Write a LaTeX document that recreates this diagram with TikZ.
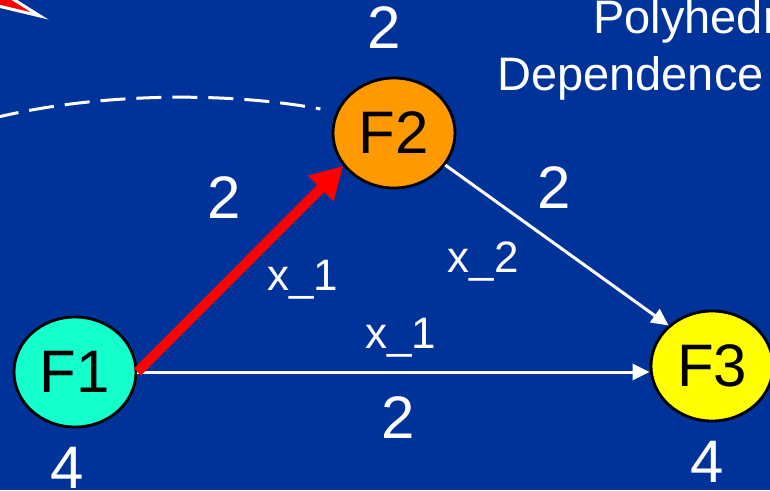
\documentclass[tikz,border=0pt]{standalone}
\usepackage{fontspec}
\setmainfont{Liberation Sans}
\usetikzlibrary{shapes.geometric,arrows.meta}
\definecolor{slideblue}{RGB}{0,51,153}
\definecolor{fone}{RGB}{20,255,204}
\definecolor{ftwo}{RGB}{255,153,0}
\definecolor{fthree}{RGB}{255,255,0}
\newcommand{\fnfont}{\fontsize{60}{60}\selectfont}
\newcommand{\wtfont}{\fontsize{60}{60}\selectfont}
\newcommand{\varfont}{\fontsize{44}{44}\selectfont}
\newcommand{\ttlfont}{\fontsize{47}{52}\selectfont}
\begin{document}
\begin{tikzpicture}[
	x=1pt, y=-1pt,
	fn/.style={ellipse, draw=black, line width=2.8pt, minimum width=122pt, minimum height=110pt, inner sep=0pt, font=\fnfont},
	wt/.style={text=white, anchor=base, inner sep=0pt, font=\wtfont},
	var/.style={text=white, anchor=base, inner sep=0pt, font=\varfont},
	ttl/.style={text=white, anchor=base west, inner sep=0pt, font=\ttlfont},
	dep/.style={-{Triangle[length=17pt,width=16pt]}, white, line width=3pt},
	crit/.style={-{Triangle[length=32pt,width=34pt]}, red, line width=10pt},
	farcall/.style={white, line width=3pt, dash pattern=on 25pt off 11pt}
]
\useasboundingbox (0,0) rectangle (770,490);
\fill[slideblue] (0,0) rectangle (770,490);
\clip (0,0) rectangle (770,490);

% title, cut at the right edge
\node[ttl] (ttl1) at (593,33) {Polyhedral};
\node[ttl] (ttl2) at (497,90) {Dependence};

% tip of an arrow coming from outside
\filldraw[fill=red, draw=white, line width=3pt] (-6,-4) -- (8,-4) -- (40,16) -- (-6,5) -- cycle;

% statements
\node[fn, fill=fone] (f1) at (75,372) {F1};
\node[fn, fill=ftwo] (f2) at (394,133) {F2};
\node[fn, fill=fthree] (f3) at (712,366) {F3};

% weights of the statements
\node[wt] (w2) at (384,48) {2};
\node[wt] (w1) at (67,488) {4};
\node[wt] (w3) at (707,482) {4};

% weights and distances of the edges
\node[wt] (e12) at (224,218) {2};
\node[var] (d12) at (303,290) {x\_1};
\node[wt] (e23) at (554,208) {2};
\node[var] (d23) at (483,272) {x\_2};
\node[var] (d13) at (401,348) {x\_1};
\node[wt] (e13) at (398,438) {2};

% edges
\coordinate (farin) at (-6,118);
\draw[farcall, shorten >=16pt] (farin) .. controls (100,92) and (230,92) .. (f2.160);
\draw[dep] (f1.east) -- (f1.east -| f3.west);
\draw[dep] (f2.-32) -- (f3.137);
\draw[crit] (f1.east) -- (f2.213);
\end{tikzpicture}
\end{document}
